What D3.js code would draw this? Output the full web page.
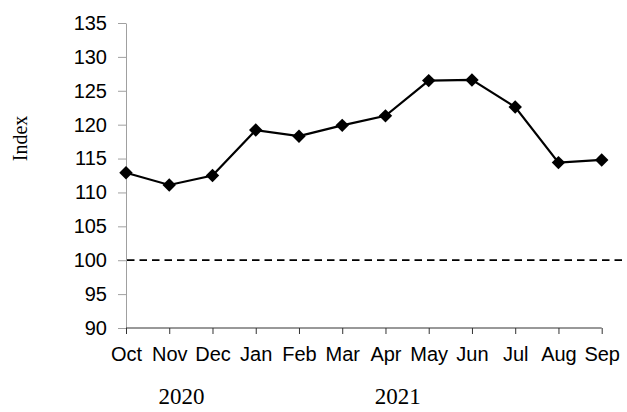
<!DOCTYPE html>
<html>
<head>
<meta charset="utf-8">
<script src="https://cdn.jsdelivr.net/npm/d3@7"></script>
<style>
  body { margin: 0; background: #fff; }
  svg { display: block; }
</style>
</head>
<body>
<div id="chart"></div>
<script>
var months = ["Oct", "Nov", "Dec", "Jan", "Feb", "Mar", "Apr", "May", "Jun", "Jul", "Aug", "Sep"];
var values = [112.9, 111.1, 112.5, 119.2, 118.3, 119.9, 121.3, 126.5, 126.6, 122.6, 114.4, 114.8];
var yTicks = [90, 95, 100, 105, 110, 115, 120, 125, 130, 135];
var years = [{label: "2020", month: "Dec"}, {label: "2021", month: "May"}];
var baseline = 100;

var width = 627, height = 412;
var margin = {top: 23, right: 25, bottom: 84, left: 126};

var svg = d3.select("#chart").append("svg")
    .attr("width", width)
    .attr("height", height);

var xScale = d3.scalePoint()
    .domain(months)
    .range([margin.left, 601.7]);

var yScale = d3.scaleLinear()
    .domain([90, 135])
    .range([height - margin.bottom, margin.top]);

// y axis
var yAxis = svg.append("g")
    .attr("transform", "translate(" + margin.left + ",0)")
    .call(d3.axisLeft(yScale).tickValues(yTicks).tickSize(8).tickSizeOuter(0).tickPadding(11));
yAxis.selectAll("path, line").attr("stroke", "#a0a0a0");
yAxis.selectAll("text")
    .attr("font-family", "Liberation Sans, Arial, sans-serif")
    .attr("font-size", 20)
    .attr("fill", "#000");

// x axis
var xAxis = svg.append("g")
    .attr("transform", "translate(0," + (height - margin.bottom) + ")")
    .call(d3.axisBottom(xScale).tickSize(6).tickSizeOuter(0).tickPadding(13));
xAxis.select("path").attr("stroke", "#333").attr("d", "M" + margin.left + ",0H" + xScale("Sep"));
xAxis.selectAll("line").attr("stroke", "#333");
xAxis.selectAll("text")
    .attr("font-family", "Liberation Sans, Arial, sans-serif")
    .attr("font-size", 20)
    .attr("fill", "#000");

// baseline at 100
svg.append("line")
    .attr("x1", margin.left + 1)
    .attr("x2", width)
    .attr("y1", yScale(baseline))
    .attr("y2", yScale(baseline))
    .attr("stroke", "#000")
    .attr("stroke-width", 1.8)
    .attr("stroke-dasharray", "7.5,5");

var data = months.map(function(m, i) { return {month: m, value: values[i]}; });

var line = d3.line()
    .x(function(d) { return xScale(d.month); })
    .y(function(d) { return yScale(d.value); });

svg.append("path")
    .datum(data)
    .attr("d", line)
    .attr("fill", "none")
    .attr("stroke", "#000")
    .attr("stroke-width", 2.2);

svg.selectAll(".pt").data(data)
    .join("path")
    .attr("class", "pt")
    .attr("d", d3.symbol().type(d3.symbolDiamond2).size(115))
    .attr("transform", function(d) {
        return "translate(" + xScale(d.month) + "," + yScale(d.value) + ")";
    })
    .attr("fill", "#000");

// y label
svg.append("text")
    .attr("transform", "translate(27,138.5) rotate(-90)")
    .attr("text-anchor", "middle")
    .attr("font-family", "Liberation Serif, Times New Roman, serif")
    .attr("font-size", 20)
    .text("Index");

// year labels
svg.selectAll(".year").data(years)
    .join("text")
    .attr("class", "year")
    .attr("x", function(d) { return xScale(d.month) - 31; })
    .attr("y", 404)
    .attr("text-anchor", "middle")
    .attr("font-family", "Liberation Serif, Times New Roman, serif")
    .attr("font-size", 23)
    .text(function(d) { return d.label; });
</script>
</body>
</html>
